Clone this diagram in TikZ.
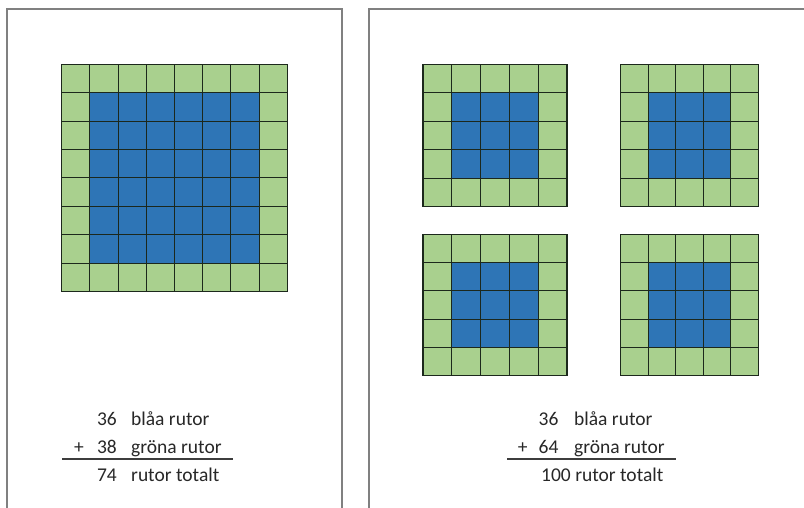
\documentclass[tikz,border=0pt]{standalone}
\usepackage{fontspec}
\setmainfont{Carlito}
\definecolor{gfill}{RGB}{169,208,142}
\definecolor{bfill}{RGB}{46,117,182}
\definecolor{gline}{RGB}{28,40,28}
\definecolor{frame}{RGB}{128,128,128}
\definecolor{txt}{RGB}{40,40,40}
\newcommand\sqgrid[5]{%
  \fill[gfill] (#1,#2) rectangle (#1+#5*#3,#2+#5*#4);
  \fill[bfill] (#1+#3,#2+#4) rectangle (#1+#5*#3-#3,#2+#5*#4-#4);
  \foreach \i in {0,...,#5}{
    \draw[gridline] (#1+\i*#3,#2) -- (#1+\i*#3,#2+#5*#4);
    \draw[gridline] (#1,#2+\i*#4) -- (#1+#5*#3,#2+\i*#4);
  }%
}
\begin{document}
\begin{tikzpicture}[x=1pt,y=-1pt,
  gridline/.style={draw=gline,line width=1.1pt,line cap=rect},
  panel/.style={draw=frame,line width=1.6pt},
  lbl/.style={inner sep=0pt,font=\fontsize{19.5}{22}\selectfont,text=txt},
  num/.style={lbl,anchor=base east},
  word/.style={lbl,anchor=base west},
  plus/.style={lbl,anchor=base},
  sumline/.style={draw=txt!90,line width=1.3pt}]
\useasboundingbox (0,0) rectangle (804,508);
\fill[white] (0,0) rectangle (804,508);
% panels
\draw[panel] (7,520) -- (7,9) -- (342,9) -- (342,520);
\draw[panel] (369,520) -- (369,9) -- (820,9);
% grids
\sqgrid{61.7}{64.3}{28.2}{28.4}{8}
\sqgrid{423}{64.3}{28.8}{28.5}{5}
\sqgrid{620.7}{64.3}{27.5}{28.5}{5}
\sqgrid{423}{234.3}{28.8}{28.3}{5}
\sqgrid{620.7}{234.3}{27.5}{28.3}{5}
% left sums
\node[num]  (l1n) at (117,425.5) {36};
\node[word] (l1w) at (131,425.5) {blåa rutor};
\node[plus] (lp)  at (79,453.3) {+};
\node[num]  (l2n) at (117,453.3) {38};
\node[word] (l2w) at (131,453.3) {gröna rutor};
\coordinate (la) at (62,459);
\coordinate (lb) at (233,459);
\draw[sumline] (la) -- (lb);
\node[num]  (l3n) at (117,481.3) {74};
\node[word] (l3w) at (131,481.3) {rutor totalt};
% right sums
\node[num]  (r1n) at (558.7,425.5) {36};
\node[word] (r1w) at (574,425.5) {blåa rutor};
\node[plus] (rp)  at (522.7,453.3) {+};
\node[num]  (r2n) at (558.7,453.3) {64};
\node[word] (r2w) at (574,453.3) {gröna rutor};
\coordinate (ra) at (507,459);
\coordinate (rb) at (676,459);
\draw[sumline] (ra) -- (rb);
\node[word] (r3) at (541,481.3) {100 rutor totalt};
\end{tikzpicture}
\end{document}
